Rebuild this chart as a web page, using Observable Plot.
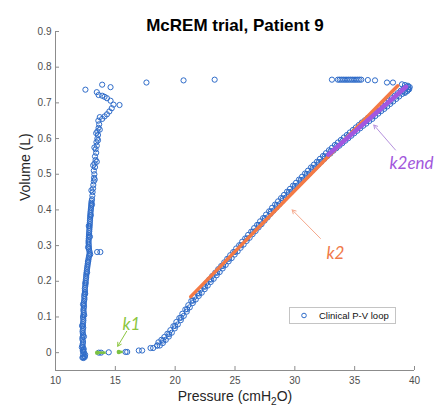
<!DOCTYPE html>
<html><head><meta charset="utf-8">
<script src="https://cdn.jsdelivr.net/npm/d3@7"></script>
<script src="https://cdn.jsdelivr.net/npm/@observablehq/plot@0.6"></script>
<style>
html,body{margin:0;padding:0;background:#fff;}
#wrap{position:relative;width:438px;height:412px;font-family:"Liberation Sans",Arial,sans-serif;}
#legend{position:absolute;left:289px;top:307px;width:105px;height:15px;border:1px solid #c4c4c4;background:#fff;font-size:9.5px;display:flex;align-items:center;color:#111;}
#legend span{margin-left:7px;}
</style></head><body><div id="wrap"></div>
<script>
const title = "McREM trial, Patient 9";
const xLabel = "Pressure (cmH2O)";
const yLabel = "Volume (L)";
const legendLabel = "Clinical P-V loop";
const xDomain = [10, 40];
const yDomain = [-0.05, 0.9];
const xTicks = [10, 15, 20, 25, 30, 35, 40];
const yTicks = [0, 0.1, 0.2, 0.3, 0.4, 0.5, 0.6, 0.7, 0.8, 0.9];

// [pressure, volume] points of the clinical P-V loop
const leftBranch = [[12.35,-0.015],[12.42,-0.01],[12.3,-0.005],[12.38,0],[12.28,0.005],[12.36,0.01],[12.25,0.02],[12.3,0.03],[12.24,0.04],[12.3,0.05],[12.26,0.06],[12.32,0.07],[12.28,0.08],[12.33,0.09],[12.3,0.1],[12.36,0.11],[12.33,0.12],[12.38,0.13],[12.36,0.14],[12.42,0.15],[12.4,0.16],[12.46,0.17],[12.45,0.18],[12.5,0.19],[12.52,0.2],[12.56,0.21],[12.58,0.22],[12.62,0.23],[12.66,0.24],[12.7,0.25],[12.75,0.26],[12.8,0.27],[12.86,0.28],[12.8,0.29],[12.78,0.3],[12.76,0.31],[12.78,0.32],[12.8,0.33],[12.82,0.34],[12.84,0.35],[12.86,0.36],[12.88,0.37],[12.9,0.38],[12.92,0.39],[12.95,0.4],[12.98,0.41],[13.0,0.42],[13.05,0.43],[13.08,0.44],[13.1,0.45],[13.14,0.46],[13.16,0.47],[13.2,0.48],[13.22,0.49],[13.25,0.5],[13.2,0.51],[13.3,0.52],[13.26,0.53],[13.35,0.54],[13.3,0.55],[13.4,0.56],[13.35,0.57],[13.45,0.58],[13.42,0.59],[13.5,0.6],[13.55,0.61],[13.5,0.62],[13.6,0.63],[13.65,0.64],[13.58,0.65],[13.7,0.66]];
const leftBranch2 = [[12.45,-0.012],[12.2,0.015],[12.38,0.045],[12.22,0.075],[12.4,0.105],[12.3,0.135],[12.48,0.165],[12.5,0.195],[12.64,0.225],[12.72,0.255],[12.9,0.275],[12.72,0.295],[12.88,0.325],[12.78,0.355],[12.95,0.385],[13.05,0.415],[13.0,0.455],[13.28,0.485],[13.15,0.525],[13.45,0.535],[13.25,0.575],[13.55,0.595],[13.4,0.615],[13.7,0.625],[13.48,0.282],[13.75,0.282]];
const leftBranch3 = [[12.25,-0.014],[12.48,-0.006],[12.3,-0.0125],[12.33,0.0025],[12.3,0.0075],[12.3,0.015],[12.28,0.025],[12.27,0.035],[12.28,0.045],[12.28,0.055],[12.29,0.065],[12.3,0.075],[12.31,0.085],[12.32,0.095],[12.33,0.105],[12.35,0.115],[12.36,0.125],[12.37,0.135],[12.39,0.145],[12.41,0.155],[12.43,0.165],[12.46,0.175],[12.48,0.185],[12.51,0.195],[12.54,0.205],[12.57,0.215],[12.6,0.225],[12.64,0.235],[12.68,0.245],[12.72,0.255],[12.77,0.265],[12.83,0.275],[12.83,0.285],[12.79,0.295],[12.77,0.305],[12.77,0.315],[12.79,0.325],[12.81,0.335],[12.83,0.345],[12.85,0.355],[12.87,0.365],[12.89,0.375],[12.91,0.385],[12.93,0.395],[12.96,0.405],[12.99,0.415],[13.02,0.425]];
const topHook = [[13.9,0.655],[14.1,0.662],[14.3,0.668],[14.5,0.676],[14.7,0.685],[14.85,0.695],[14.6,0.706],[14.3,0.713],[14.1,0.717],[13.9,0.72],[13.6,0.722],[13.45,0.73],[15.35,0.694],[12.5,0.737],[13.9,0.751],[14.6,0.744],[17.6,0.757],[20.7,0.763],[23.3,0.765]];
const topRight = [[33.1,0.765],[33.6,0.765],[33.75,0.765],[33.9,0.765],[34.05,0.765],[34.2,0.765],[34.35,0.765],[34.5,0.765],[34.65,0.765],[34.8,0.765],[34.95,0.765],[35.1,0.765],[35.25,0.765],[35.4,0.765],[35.55,0.765],[36.1,0.764],[36.7,0.763],[37.7,0.757],[38.2,0.757],[38.95,0.752],[39.2,0.75],[39.45,0.748],[39.6,0.744],[39.55,0.738],[39.4,0.733],[39.3,0.742],[39.2,0.728]];
const bottomRow = [[13.62,0],[13.81,0],[14.45,0.001],[15.85,0.002],[15.99,0.002],[16.96,0.006],[17.24,0.006],[17.94,0.013],[18.16,0.013],[18.5,0.02]];
const riseA = [[18.6,0.029],[18.85,0.036],[19.1,0.044],[19.35,0.053],[19.6,0.063],[19.85,0.074],[20.1,0.086],[20.35,0.097],[20.6,0.109],[20.85,0.121],[21.1,0.133],[21.35,0.145],[21.6,0.156],[21.85,0.166],[22.1,0.176],[22.35,0.185],[22.6,0.195],[22.85,0.205],[23.1,0.215],[23.35,0.224],[23.6,0.234],[23.85,0.243],[24.1,0.253],[24.35,0.263],[24.6,0.273],[24.85,0.282],[25.1,0.292],[25.35,0.301],[25.6,0.311],[25.85,0.32],[26.1,0.33],[26.35,0.339],[26.6,0.349],[26.85,0.358],[27.1,0.368],[27.35,0.377],[27.6,0.387],[27.85,0.396],[28.1,0.406],[28.35,0.415],[28.6,0.424],[28.85,0.433],[29.1,0.442],[29.35,0.451],[29.6,0.459],[29.85,0.468],[30.1,0.476],[30.35,0.485],[30.6,0.493],[30.85,0.502],[31.1,0.51],[31.35,0.519],[31.6,0.527],[31.85,0.535],[32.1,0.543],[32.35,0.551],[32.6,0.559],[32.85,0.567],[33.1,0.574],[33.35,0.582],[33.6,0.589],[33.85,0.596],[34.1,0.603],[34.35,0.61],[34.6,0.617],[34.85,0.624],[35.1,0.631],[35.35,0.638],[35.6,0.645],[35.85,0.651],[36.1,0.658],[36.35,0.664],[36.6,0.671],[36.85,0.679],[37.1,0.686],[37.35,0.692],[37.6,0.699],[37.85,0.706],[38.1,0.713],[38.35,0.72],[38.6,0.727],[38.85,0.734],[39.1,0.74],[39.35,0.746]];
const riseB = [[18.72,0.02],[18.97,0.027],[19.22,0.036],[19.47,0.045],[19.72,0.056],[19.97,0.068],[20.22,0.079],[20.47,0.091],[20.72,0.103],[20.97,0.115],[21.22,0.127],[21.47,0.139],[21.72,0.149],[21.97,0.159],[22.22,0.168],[22.47,0.178],[22.72,0.188],[22.97,0.198],[23.22,0.207],[23.47,0.217],[23.72,0.226],[23.97,0.236],[24.22,0.246],[24.47,0.256],[24.72,0.265],[24.97,0.275],[25.22,0.284],[25.47,0.294],[25.72,0.303],[25.97,0.313],[26.22,0.322],[26.47,0.332],[26.72,0.341],[26.97,0.351],[27.22,0.36],[27.47,0.37],[27.72,0.379],[27.97,0.389],[28.22,0.398],[28.47,0.407],[28.72,0.416],[28.97,0.425],[29.22,0.434],[29.47,0.443],[29.72,0.451],[29.97,0.46],[30.22,0.468],[30.47,0.477],[30.72,0.485],[30.97,0.494],[31.22,0.502],[31.47,0.511],[31.72,0.519],[31.97,0.527],[32.22,0.535],[32.47,0.543],[32.72,0.551],[32.97,0.558],[33.22,0.566],[33.47,0.573],[33.72,0.58],[33.97,0.587],[34.22,0.594],[34.47,0.601],[34.72,0.608],[34.97,0.615],[35.22,0.622],[35.47,0.629],[35.72,0.636],[35.97,0.642],[36.22,0.649],[36.47,0.655],[36.72,0.663],[36.97,0.67],[37.22,0.677],[37.47,0.683],[37.72,0.69],[37.97,0.697],[38.22,0.704],[38.47,0.711],[38.72,0.718],[38.97,0.725],[39.22,0.731],[39.47,0.737]];
const riseC = [[18.5,0.02],[19.0,0.034],[19.5,0.052],[20.0,0.075],[20.5,0.098],[21.0,0.122],[21.5,0.146],[22.0,0.166],[22.5,0.185],[23.0,0.205],[23.5,0.224],[24.0,0.243],[24.5,0.263],[25.0,0.282],[25.5,0.301],[26.0,0.32],[26.5,0.339],[27.0,0.358],[27.5,0.377],[28.0,0.396],[28.5,0.414],[29.0,0.432],[29.5,0.45],[30.0,0.467],[30.5,0.484],[31.0,0.501],[31.5,0.518],[32.0,0.534],[32.5,0.55],[33.0,0.565],[33.5,0.58],[34.0,0.594],[34.5,0.608],[35.0,0.622],[35.5,0.636],[36.0,0.649],[36.5,0.662],[37.0,0.677],[37.5,0.69],[38.0,0.704],[38.5,0.718],[39.0,0.732],[39.5,0.744]];

// fitted lines
const k2Line = [[21.3,0.157],[38.6,0.748]];
const k2endLine = [[32.8,0.555],[39.3,0.745]];
const k1Segments = [[13.48,14.2,0.0],[15.29,15.62,0.002]];

// annotations
const annoText = ["k1", "k2", "k2end"];
const annoP = [16.35, 33.4, 39.75];
const annoV = [0.079, 0.278, 0.531];
const annoColor = ["#8cc63f", "#f07a4a", "#a257dc"];
const arrowFrom = [[15.95,0.06],[32.14,0.32],[38.41,0.568]];
const arrowTo = [[15.2,0.018],[29.78,0.40],[36.6,0.638]];
const arrowColor = ["#8cc63f", "#f5a88c", "#b591dd"];

const blue = "#2f6cc9";
const loop = [...leftBranch, ...leftBranch2, ...leftBranch3, ...topHook, ...topRight, ...bottomRow, ...riseA, ...riseB, ...riseC].map(([P, V]) => ({P, V}));
const annos = annoText.map((t, i) => ({t, P: annoP[i], V: annoV[i], c: annoColor[i]}));
const arrows = arrowFrom.map((f, i) => ({x1: f[0], y1: f[1], x2: arrowTo[i][0], y2: arrowTo[i][1], c: arrowColor[i]}));
const k1 = k1Segments.map(([a, b, v]) => ({x1: a, x2: b, y: v}));

const chart = Plot.plot({
  width: 438, height: 412,
  marginLeft: 55, marginRight: 24, marginTop: 31, marginBottom: 42,
  style: {fontFamily: '"Liberation Sans", Arial, sans-serif', fontSize: "10px", background: "#fff"},
  x: {domain: xDomain},
  y: {domain: yDomain},
  marks: [
    Plot.ruleX([xDomain[0]], {stroke: "#8c8c8c"}),
    Plot.ruleY([yDomain[0]], {stroke: "#8c8c8c"}),
    Plot.tickY(yTicks, {stroke: "#8c8c8c", insetRight: 355}),
    Plot.tickX(xTicks, {stroke: "#8c8c8c", insetTop: 335}),
    Plot.axisX({ticks: xTicks, tickSize: 0, tickPadding: 6, fill: "#4d4d4d", tickFormat: d3.format("~g"), label: null}),
    Plot.axisY({ticks: yTicks, tickSize: 0, tickPadding: 4, fill: "#4d4d4d", tickFormat: d3.format("~g"), label: null}),
    Plot.dot(loop, {x: "P", y: "V", r: 2.6, stroke: blue, strokeWidth: 1, fill: "none"}),
    Plot.link(k1, {x1: "x1", x2: "x2", y1: "y", y2: "y", stroke: "#7cc242", strokeWidth: 2.5}),
    Plot.dot(k1, {x: "x1", y: "y", r: 2.2, fill: "#7cc242"}),
    Plot.line(k2Line, {x: d => d[0], y: d => d[1], stroke: "#f47a45", strokeWidth: 3.5}),
    Plot.line(k2endLine, {x: d => d[0], y: d => d[1], stroke: "#a257e0", strokeWidth: 4.5}),
    Plot.arrow(arrows, {x1: "x1", y1: "y1", x2: "x2", y2: "y2", stroke: "c", strokeWidth: 1, headLength: 6}),
    Plot.text(annos, {x: "P", y: "V", text: "t", fill: "c", fontSize: 17, fontStyle: "italic", fontFamily: "Lato, 'Open Sans', sans-serif"}),
    Plot.text([title], {frameAnchor: "top", dy: -13, fontSize: 17, fontWeight: "bold", fill: "#000"}),
    Plot.text([yLabel], {frameAnchor: "left", rotate: -90, dx: -30, fontSize: 14, fill: "#262626"}),
    Plot.text([xLabel], {frameAnchor: "bottom", dy: 30, fontSize: 14, fill: "#262626"})
  ]
});

d3.select(chart).selectAll("text").filter(function() { return this.textContent === xLabel; }).each(function() {
  const t = d3.select(this);
  t.text(null);
  t.append("tspan").text("Pressure (cmH");
  t.append("tspan").attr("font-size", "10px").attr("dy", "4").text("2");
  t.append("tspan").attr("dy", "-4").text("O)");
});

const wrap = document.getElementById("wrap");
wrap.appendChild(chart);
const legend = document.createElement("div");
legend.id = "legend";
legend.innerHTML = `<svg width="22" height="15"><circle cx="14" cy="7.5" r="2.3" fill="none" stroke="${blue}" stroke-width="1"/></svg><span></span>`;
legend.querySelector("span").textContent = legendLabel;
wrap.appendChild(legend);
</script></body></html>
